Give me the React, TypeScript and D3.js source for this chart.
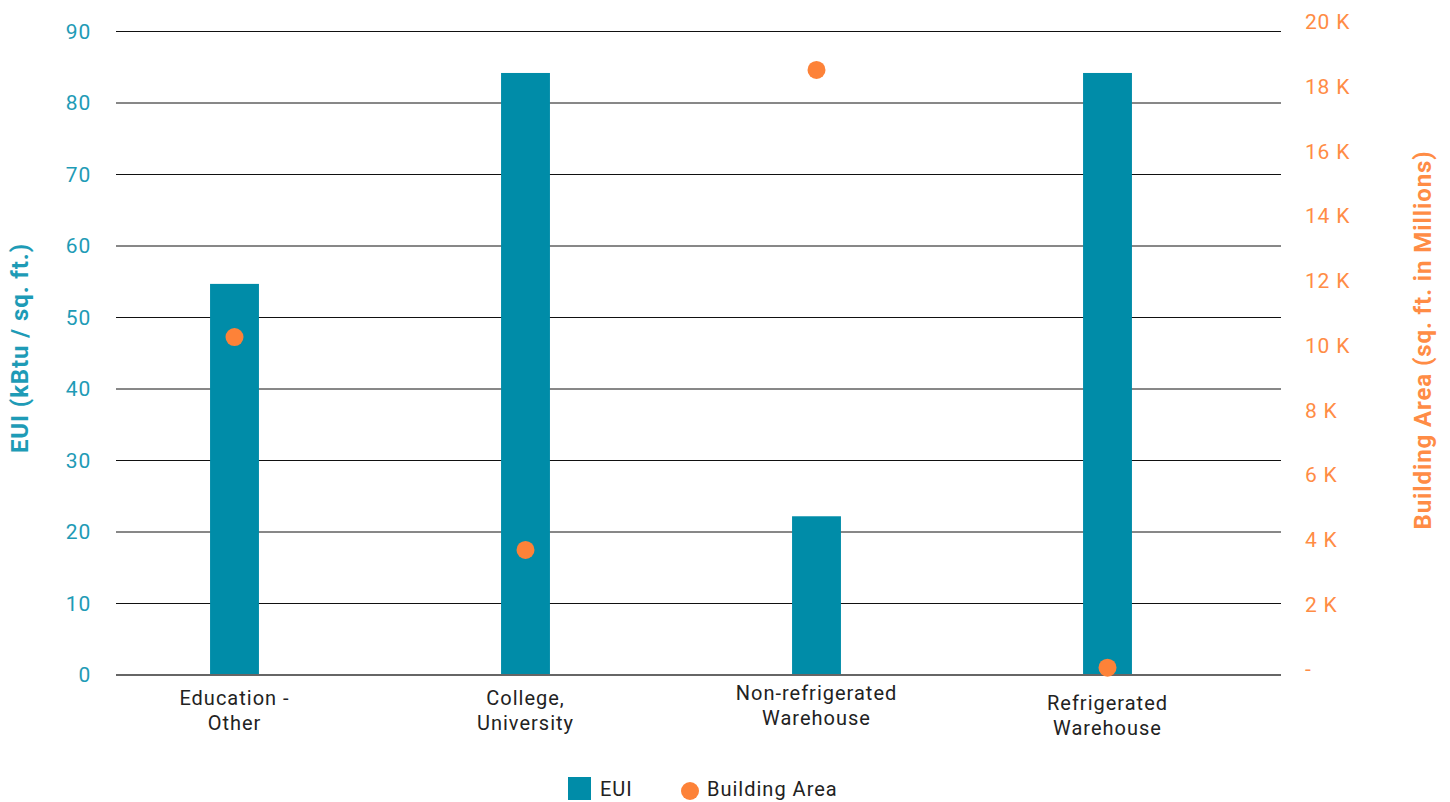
import React from "react";
import * as d3 from "d3";

const categories = [["Education -", "Other"], ["College,", "University"], ["Non-refrigerated", "Warehouse"], ["Refrigerated", "Warehouse"]];
const euiValues = [54.7, 84.2, 22.2, 84.2];
const buildingArea = [10260, 3680, 18520, 40];
const leftTicks = [0, 10, 20, 30, 40, 50, 60, 70, 80, 90];
const rightTicks = [0, 2000, 4000, 6000, 8000, 10000, 12000, 14000, 16000, 18000, 20000];

const TEAL = "#008CA8";
const TEAL_TEXT = "#1E9BB6";
const ORANGE = "#FD8238";
const ORANGE_TEXT = "#FF8C45";
const FONT = "Roboto, 'Noto Sans', sans-serif";

export default function App() {
  const W = 1450, H = 802;
  const yL = d3.scaleLinear().domain([0, 90]).range([675, 31.5]);
  const yR = d3.scaleLinear().domain([0, 20000]).range([669, 22]);
  const keys = categories.map((c) => c.join(" "));
  const x = d3.scaleBand().domain(keys).range([89, 1253]).paddingInner(0.832).paddingOuter(0.416);
  const gridX0 = 116, gridX1 = 1281;
  const labelShift = [0, 0, -5, 5];
  const fmtR = (v: number) => (v === 0 ? "-" : `${v / 1000} K`);

  return (
    <svg width={W} height={H} style={{ position: "absolute", left: 0, top: 0, background: "#fff" }} fontFamily={FONT}>
      {leftTicks.map((t) => (
        <g key={"l" + t}>
          {t !== 0 && <line x1={gridX0} x2={gridX1} y1={yL(t)} y2={yL(t)} stroke="#111" strokeWidth={1} />}
          <text x={91} y={yL(t)} dy="0.35em" textAnchor="end" fontSize={21} letterSpacing={0.8} fill={TEAL_TEXT}>{t}</text>
        </g>
      ))}
      {rightTicks.map((t) => (
        <text key={"r" + t} x={1305} y={yR(t)} dy="0.35em" textAnchor="start" fontSize={21} letterSpacing={0.8} fill={ORANGE_TEXT}>{fmtR(t)}</text>
      ))}
      {euiValues.map((v, i) => (
        <rect key={"b" + i} x={x(keys[i])} y={yL(v)} width={x.bandwidth()} height={yL(0) - yL(v)} fill={TEAL} />
      ))}
      <line x1={gridX0} x2={gridX1} y1={yL(0)} y2={yL(0)} stroke="#666" strokeWidth={2} />
      {buildingArea.map((v, i) => (
        <circle key={"c" + i} cx={(x(keys[i]) as number) + x.bandwidth() / 2} cy={yR(v)} r={9} fill={ORANGE} />
      ))}
      {categories.map((c, i) => (
        <text key={"x" + i} x={(x(keys[i]) as number) + x.bandwidth() / 2} y={705 + labelShift[i]} textAnchor="middle" fontSize={20} letterSpacing={1} fill="#222">
          <tspan x={(x(keys[i]) as number) + x.bandwidth() / 2} dy={0}>{c[0]}</tspan>
          <tspan x={(x(keys[i]) as number) + x.bandwidth() / 2} dy={25}>{c[1]}</tspan>
        </text>
      ))}
      <text transform="translate(28,348) rotate(-90)" textAnchor="middle" fontSize={24} letterSpacing={0.9} fontWeight="bold" fill={TEAL_TEXT}>EUI (kBtu / sq. ft.)</text>
      <text transform="translate(1431,340) rotate(-90)" textAnchor="middle" fontSize={24} letterSpacing={0.9} fontWeight="bold" fill={ORANGE_TEXT}>Building Area (sq. ft. in Millions)</text>
      <g>
        <rect x={568} y={777} width={23} height={23} fill={TEAL} />
        <text x={600} y={796} fontSize={20} letterSpacing={1} fill="#222">EUI</text>
        <circle cx={690} cy={791} r={9} fill={ORANGE} />
        <text x={707} y={796} fontSize={20} letterSpacing={1} fill="#222">Building Area</text>
      </g>
    </svg>
  );
}
